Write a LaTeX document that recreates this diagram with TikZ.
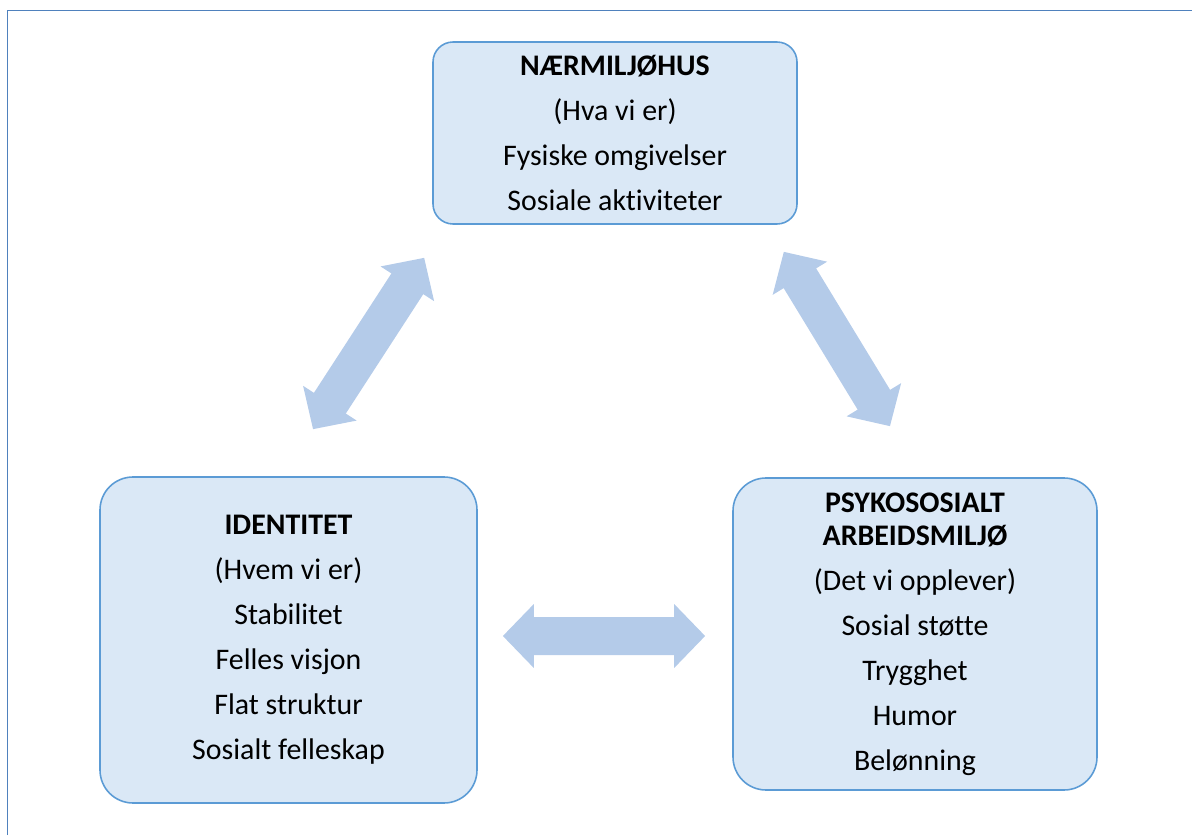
\documentclass[tikz,border=0pt]{standalone}
\usepackage{fontspec}
\setmainfont{Carlito}[Ligatures=NoCommon]
\usepackage{tikz}
\usetikzlibrary{arrows.meta}

\definecolor{boxfill}{RGB}{218,232,246}
\definecolor{boxline}{RGB}{91,155,213}
\definecolor{arrowfill}{RGB}{180,203,233}
\definecolor{frameline}{RGB}{79,129,189}

\begin{document}
\begin{tikzpicture}[
    infobox/.style={draw=boxline, fill=boxfill, line width=0.9pt, align=center, inner sep=0pt, font=\fontsize{17}{18.8}\selectfont},
    bigarrow/.style={draw=arrowfill, line width=0.76cm, {Triangle[width=1.24cm,length=0.62cm]}-{Triangle[width=1.24cm,length=0.62cm]}}
  ]
    \useasboundingbox (0,0) rectangle (23.84,16.7);
    \draw[frameline, line width=1.1pt] (0.15,0) -- (0.15,16.49) -- (23.84,16.49);
    \node[infobox, rounded corners=0.4cm, minimum width=7.28cm, minimum height=3.64cm] (nearmiljo) at (12.3,14.04)
      {\textbf{NÆRMILJØHUS}\\[6.8pt] (Hva vi er)\\[6.8pt] Fysiske omgivelser\\[6.8pt] Sosiale aktiviteter};
    \node[infobox, rounded corners=0.66cm, minimum width=7.54cm, minimum height=6.52cm] (identitet) at (5.77,3.9)
      {\textbf{IDENTITET}\\[6.8pt] (Hvem vi er)\\[6.8pt] Stabilitet\\[6.8pt] Felles visjon\\[6.8pt] Flat struktur\\[6.8pt] Sosialt felleskap};
    \node[infobox, rounded corners=0.66cm, minimum width=7.28cm, minimum height=6.24cm] (psykosos) at (18.3,4.02)
      {\textbf{PSYKOSOSIALT}\\ \textbf{ARBEIDSMILJØ}\\[6.8pt] (Det vi opplever)\\[6.8pt] Sosial støtte\\[6.8pt] Trygghet\\[6.8pt] Humor\\[6.8pt] Belønning};
    \draw[bigarrow] ([shift={(0.49,0.94)}]identitet.north) -- ([shift={(-0.16,-0.66)}]nearmiljo.south west);
    \draw[bigarrow] ([shift={(-0.28,-0.54)}]nearmiljo.south east) -- ([shift={(-0.5,1.02)}]psykosos.north);
    \draw[bigarrow] ([shift={(0.5,0.08)}]identitet.east) -- ([shift={(-0.54,-0.04)}]psykosos.west);
\end{tikzpicture}
\end{document}
